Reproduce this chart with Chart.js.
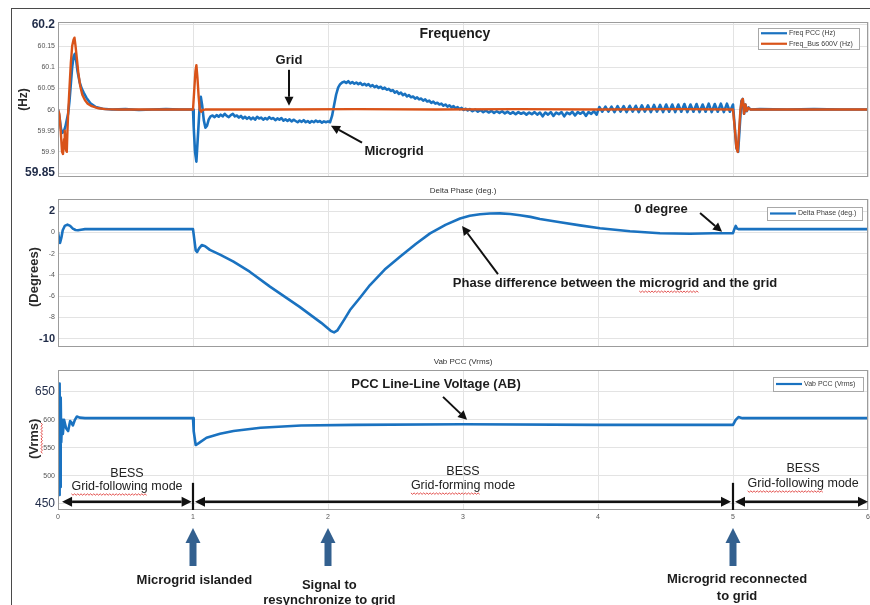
<!DOCTYPE html>
<html><head><meta charset="utf-8">
<script src="https://cdn.jsdelivr.net/npm/chart.js@4.4.0/dist/chart.umd.min.js"></script>
<style>
body{margin:0;background:#fff;}
#wrap{position:relative;width:870px;height:605px;overflow:hidden;background:#fff;}
#frame{position:absolute;left:11px;top:8px;width:900px;height:700px;border-left:1.5px solid #4a4a4a;border-top:1.5px solid #4a4a4a;}
canvas{position:absolute;left:0;}
</style></head><body>
<div id="wrap"><div id="frame"></div>
<canvas id="c1" width="870" height="184" style="top:0px"></canvas>
<canvas id="c2" width="870" height="170" style="top:184px"></canvas>
<canvas id="c3" width="870" height="251" style="top:354px"></canvas>
</div>
<script>
// ---------------- DATA ----------------
const xTicks = [0,1,2,3,4,5,6];
const xTickLabels = ['0','1','2','3','4','5','6'];

const freqTicks = [59.85,59.9,59.95,60,60.05,60.1,60.15,60.2];
const freqTickLabels = ['59.85','59.9','59.95','60','60.05','60.1','60.15','60.2'];
const phaseTicks = [-10,-8,-6,-4,-2,0,2];
const phaseTickLabels = ['-10','-8','-6','-4','-2','0','2'];
const vabTicks = [450,500,550,600,650];
const vabTickLabels = ['450','500','550','600','650'];

// Freq PCC (Hz) - blue
const pccT = [0,0.012,0.022,0.032,0.045,0.055,0.065,0.075,0.085,0.095,0.105,0.115,0.125,0.135,0.145,0.16,0.175,0.19,0.21,0.24,0.28,0.33,0.4,0.5,0.6,0.7,0.8,0.9,1.0,
1.005,1.015,1.025,1.035,1.048,1.058,1.068,1.08,1.092,1.104,1.116,1.13,1.145,1.16,1.175,1.19,1.205,1.22,1.235,1.25,1.265,1.28,1.295,1.31,1.325,1.34,1.355,1.37,1.385,1.4,1.415,1.43,1.445,1.46,1.475,1.49,1.505,1.52,1.535,1.55,1.565,1.58,1.595,1.61,1.625,1.64,1.655,1.67,1.685,1.7,1.715,1.73,1.745,1.76,1.775,1.79,1.805,1.82,1.835,1.85,1.865,1.88,1.895,1.91,1.925,1.94,1.955,1.97,1.985,2.0,2.015,
2.03,2.045,2.06,2.075,2.09,2.105,2.12,2.135,2.15,2.165,2.18,2.195,2.21,2.225,2.24,2.255,2.27,2.285,2.3,2.315,2.33,2.345,2.36,2.375,2.39,2.405,2.42,2.435,2.45,2.465,2.48,2.495,2.51,2.525,2.54,2.555,2.57,2.585,2.6,2.615,2.63,2.645,2.66,2.675,2.69,2.705,2.72,2.735,2.75,2.765,2.78,2.795,2.81,2.825,2.84,2.855,2.87,2.885,2.9,2.915,2.93,2.945,2.96,2.975,2.99,3.005,3.02,3.035,3.05,3.07,3.09,3.11,3.13,3.15,3.17,3.19,3.21,3.23,3.25,3.27,3.29,3.31,3.33,3.35,3.37,3.39,3.41,3.43,3.45,3.47,3.49,3.51,3.53,3.55,3.57,3.59,3.61,3.63,3.65,3.67,3.69,3.71,3.73,3.75,3.77,3.79,3.81,3.83,3.85,3.87,3.89,3.91,3.93,3.95,3.97,3.99,
4.01,4.032,4.055,4.077,4.1,4.122,4.145,4.167,4.19,4.212,4.235,4.257,4.28,4.302,4.325,4.347,4.37,4.392,4.415,4.437,4.46,4.482,4.505,4.527,4.55,4.572,4.595,4.617,4.64,4.662,4.685,4.707,4.73,4.752,4.775,4.797,4.82,4.842,4.865,4.887,4.91,4.932,4.955,4.977,5.0,
5.01,5.025,5.038,5.05,5.062,5.072,5.082,5.092,5.102,5.115,5.13,5.2,5.4,5.6,5.8,6.0];
const pccHz = [60.0,59.98,59.955,59.945,59.95,59.96,59.975,59.99,60.02,60.06,60.1,60.125,60.132,60.115,60.09,60.065,60.05,60.04,60.028,60.015,60.006,60.002,60.0,60.001,59.999,60.0,60.001,60.0,60.0,
59.96,59.9,59.877,59.93,60.0,60.03,60.01,59.975,59.957,59.962,59.976,59.984,59.986,59.982,59.987,59.983,59.988,59.984,59.99,59.985,59.982,59.987,59.99,59.984,59.986,59.981,59.985,59.979,59.983,59.978,59.982,59.977,59.981,59.976,59.983,59.979,59.981,59.976,59.98,59.977,59.982,59.978,59.98,59.975,59.979,59.976,59.98,59.974,59.977,59.973,59.977,59.972,59.976,59.973,59.97,59.974,59.971,59.975,59.97,59.973,59.969,59.973,59.97,59.974,59.971,59.973,59.969,59.972,59.97,59.972,59.97,
59.985,60.01,60.035,60.052,60.06,60.064,60.066,60.063,60.067,60.062,60.065,60.061,60.064,60.06,60.063,60.058,60.061,60.057,60.06,60.055,60.058,60.053,60.056,60.051,60.054,60.049,60.052,60.047,60.049,60.044,60.046,60.04,60.043,60.037,60.04,60.034,60.037,60.031,60.034,60.029,60.031,60.026,60.029,60.024,60.026,60.021,60.024,60.019,60.021,60.016,60.019,60.014,60.016,60.012,60.014,60.009,60.012,60.007,60.01,60.005,60.008,60.003,60.006,60.001,60.004,59.999,60.002,59.998,60.001,59.996,60.0,59.995,59.999,59.994,59.998,59.993,59.997,59.992,59.996,59.992,59.996,59.991,59.995,59.99,59.994,59.989,59.994,59.99,59.993,59.988,59.993,59.989,59.994,59.988,59.993,59.984,59.993,59.988,59.994,59.985,59.993,59.989,59.994,59.984,59.993,59.989,59.995,59.986,59.994,59.99,59.995,59.985,59.994,59.99,59.996,59.988,
60.006,59.995,60.007,59.995,60.007,59.994,60.008,59.995,60.008,59.994,60.009,59.995,60.009,59.994,60.01,59.995,60.01,59.994,60.011,59.995,60.011,59.994,60.012,59.995,60.012,59.994,60.012,59.995,60.013,59.994,60.012,59.995,60.013,59.994,60.012,59.995,60.014,59.994,60.013,59.995,60.014,59.994,60.014,59.995,60.012,
59.97,59.91,59.9,59.96,60.02,60.025,59.99,60.012,59.996,60.005,60.0,60.001,60.0,60.001,60.0,60.0];

// Freq_Bus 600V (Hz) - orange
const busT = [0,0.01,0.02,0.03,0.037,0.045,0.05,0.058,0.065,0.07,0.075,0.085,0.095,0.105,0.115,0.122,0.13,0.14,0.15,0.165,0.18,0.2,0.22,0.25,0.3,0.35,0.45,1.0,
1.008,1.018,1.025,1.033,1.042,1.05,1.06,1.07,1.09,1.6,2.2,2.8,3.4,4.0,4.6,5.0,
5.012,5.025,5.035,5.045,5.055,5.065,5.073,5.082,5.092,5.102,5.115,5.13,5.5,6.0];
const busHz = [60.0,59.99,59.95,59.9,59.895,59.93,59.95,59.905,59.9,59.95,59.99,60.05,60.11,60.15,60.165,60.17,60.15,60.12,60.088,60.055,60.035,60.022,60.014,60.008,60.003,60.001,60.0,60.0,
60.04,60.09,60.105,60.075,60.03,60.0,59.995,59.999,60.0,60.0,60.001,60.0,60.001,60.0,60.001,60.0,
59.96,59.91,59.9,59.95,60.0,60.022,60.025,59.99,60.012,59.997,60.004,60.0,60.0,60.0];

// Delta Phase (deg.)
const phaseT = [0,0.008,0.015,0.025,0.035,0.05,0.07,0.09,0.11,0.13,0.148,0.17,0.2,0.5,1.0,1.008,1.02,1.03,1.045,1.065,1.09,1.125,1.2,1.3,1.42,1.57,1.79,1.95,2.02,2.045,2.07,2.12,2.163,2.24,2.311,2.42,2.533,2.65,2.756,2.87,2.978,3.05,3.126,3.2,3.274,3.35,3.422,3.5,3.57,3.72,3.867,4.015,4.237,4.459,4.681,4.85,5.0,5.01,5.02,5.03,5.04,6.0];
const phaseDeg = [0,-0.6,-1.0,-0.5,0.2,0.6,0.72,0.6,0.35,0.22,0.2,0.25,0.3,0.3,0.3,-0.5,-1.7,-1.85,-1.5,-1.2,-1.3,-1.65,-2.1,-2.75,-3.7,-5.1,-7.0,-8.5,-9.25,-9.4,-9.2,-8.2,-7.3,-6.1,-4.95,-3.5,-2.3,-1.1,-0.1,0.7,1.3,1.55,1.7,1.77,1.78,1.72,1.6,1.45,1.25,0.95,0.65,0.38,0.1,-0.08,-0.13,-0.08,-0.08,0.3,0.6,0.35,0.3,0.3];

// Vab PCC (Vrms)
const vabT = [0,0.004,0.008,0.012,0.016,0.02,0.024,0.03,0.036,0.045,0.06,0.075,0.09,0.1,0.11,0.125,0.14,0.16,0.2,1.0,1.005,1.02,1.04,1.1,1.2,1.3,1.5,1.8,2.2,3.0,4.0,5.0,5.02,5.04,5.07,6.0];
const vabV = [470,660,466,665,480,640,560,600,575,600,585,580,598,595,590,600,606,604,603,603,580,555,558,568,575,580,586,590,591,592,591,591,600,605,603,603];

// ---------------- HELPERS ----------------
const BLUE = '#1a72c0', ORANGE = '#d95319', INK = '#1c1c1c';
const F = 'Liberation Sans, Arial, sans-serif';
function pts(t, v){ return t.map((x,i)=>({x:x, y:v[i]})); }
function txt(ctx,s,x,y,font,color,align){ctx.save();ctx.font=font;ctx.fillStyle=color||INK;ctx.textAlign=align||'center';ctx.textBaseline='middle';ctx.fillText(s,x,y);ctx.restore();}
function vtxt(ctx,s,x,y,font,color){ctx.save();ctx.translate(x,y);ctx.rotate(-Math.PI/2);ctx.font=font;ctx.fillStyle=color||INK;ctx.textAlign='center';ctx.textBaseline='middle';ctx.fillText(s,0,0);ctx.restore();}
function head(ctx,x1,y1,x2,y2,hl,hw){const a=Math.atan2(y2-y1,x2-x1);const bx=x2-hl*Math.cos(a),by=y2-hl*Math.sin(a);
  ctx.beginPath();ctx.moveTo(x2,y2);ctx.lineTo(bx+hw*Math.sin(a),by-hw*Math.cos(a));ctx.lineTo(bx-hw*Math.sin(a),by+hw*Math.cos(a));ctx.closePath();ctx.fill();return [bx,by];}
function arrow(ctx,x1,y1,x2,y2,lw,hl,hw){ctx.save();ctx.strokeStyle=ctx.fillStyle='#111';ctx.lineWidth=lw||2;
  const b=head(ctx,x1,y1,x2,y2,hl||9,hw||4.5);ctx.beginPath();ctx.moveTo(x1,y1);ctx.lineTo(b[0],b[1]);ctx.stroke();ctx.restore();}
function darrow(ctx,x1,x2,y){ctx.save();ctx.strokeStyle=ctx.fillStyle='#111';ctx.lineWidth=2.5;
  const b1=head(ctx,x2,y,x1,y,10,5);const b2=head(ctx,x1,y,x2,y,10,5);ctx.beginPath();ctx.moveTo(b1[0],y);ctx.lineTo(b2[0],y);ctx.stroke();ctx.restore();}
function vbar(ctx,x,y1,y2){ctx.save();ctx.strokeStyle='#111';ctx.lineWidth=2.2;ctx.beginPath();ctx.moveTo(x,y1);ctx.lineTo(x,y2);ctx.stroke();ctx.restore();}
function blockUp(ctx,x,yTop,yBot){const hw=7.5,sw=3.5,hh=15;ctx.save();ctx.fillStyle='#33608f';ctx.beginPath();ctx.moveTo(x,yTop);ctx.lineTo(x+hw,yTop+hh);ctx.lineTo(x+sw,yTop+hh);ctx.lineTo(x+sw,yBot);ctx.lineTo(x-sw,yBot);ctx.lineTo(x-sw,yTop+hh);ctx.lineTo(x-hw,yTop+hh);ctx.closePath();ctx.fill();ctx.restore();}
function squig(ctx,x1,x2,y){ctx.save();ctx.strokeStyle='#e0403c';ctx.lineWidth=0.9;ctx.beginPath();let i=0;for(let x=x1;x<=x2;x+=1.6,i++){const yy=y+(i%2?1.4:0);if(i===0)ctx.moveTo(x,yy);else ctx.lineTo(x,yy);}ctx.stroke();ctx.restore();}
function vsquig(ctx,x,y1,y2){ctx.save();ctx.strokeStyle='#e0403c';ctx.lineWidth=0.9;ctx.beginPath();let i=0;for(let y=y1;y<=y2;y+=1.6,i++){const xx=x+(i%2?1.4:0);if(i===0)ctx.moveTo(xx,y);else ctx.lineTo(xx,y);}ctx.stroke();ctx.restore();}
function legendBox(ctx,right,top,w,h,items){const left=right-w;ctx.save();ctx.fillStyle='#fff';ctx.fillRect(left,top,w,h);ctx.strokeStyle='#a8a8a8';ctx.lineWidth=1;ctx.strokeRect(left+0.5,top+0.5,w,h);
  const step=h/items.length;items.forEach((it,i)=>{const y=top+step*(i+0.5);ctx.strokeStyle=it.c;ctx.lineWidth=2.2;ctx.beginPath();ctx.moveTo(left+3,y);ctx.lineTo(left+29,y);ctx.stroke();txt(ctx,it.t,left+31,y,'7px '+F,'#3a3a3a','left');});ctx.restore();}
function frameArea(ctx,ca){ctx.save();ctx.strokeStyle='#9c9c9c';ctx.lineWidth=1;ctx.strokeRect(ca.left+0.5,ca.top+0.5,ca.right-ca.left-1,ca.bottom-ca.top-1);ctx.restore();}

function buildChart(id, datasets, ycfg, pad, xh, drawFn){
  const big = ycfg.big;
  return new Chart(document.getElementById(id), {
    type:'line',
    data:{datasets:datasets},
    options:{
      responsive:false, animation:false, devicePixelRatio:1,
      layout:{padding:pad},
      plugins:{legend:{display:false},tooltip:{enabled:false},title:{display:false}},
      elements:{point:{radius:0},line:{tension:0,borderWidth:2.4,borderJoinStyle:'round',borderCapStyle:'round'}},
      scales:{
        x:{type:'linear',min:0,max:6,
          afterBuildTicks:ax=>{ax.ticks=xTicks.map(v=>({value:v}));},
          afterFit:ax=>{ax.height=xh;ax.paddingLeft=0;ax.paddingRight=0;},
          grid:{color:'#e3e3e3',drawTicks:false},border:{display:false},
          ticks:{display:xh>0,padding:3,autoSkip:false,maxRotation:0,color:'#555',font:{family:F,size:7},
            callback:v=>xTickLabels[xTicks.indexOf(v)]}},
        y:{type:'linear',min:ycfg.min,max:ycfg.max,
          afterBuildTicks:ax=>{ax.ticks=ycfg.ticks.map(v=>({value:v}));},
          afterFit:ax=>{ax.width=58;ax.paddingTop=0;ax.paddingBottom=0;},
          grid:{color:'#e3e3e3',drawTicks:false},border:{display:false},
          ticks:{padding:3,autoSkip:false,
            callback:v=>ycfg.labels[ycfg.ticks.indexOf(v)],
            font:c=>(c.tick&&big.includes(c.tick.value))?ycfg.bigFont:{family:F,size:7},
            color:c=>(c.tick&&big.includes(c.tick.value))?ycfg.bigColor:'#555'}}
      }
    },
    plugins:[{id:'decor'+id,afterDraw:ch=>drawFn(ch,ch.ctx,ch.chartArea,ch.scales.x,ch.scales.y)}]
  });
}

// ---------------- PANEL 1: Frequency ----------------
buildChart('c1',[
  {label:'Freq PCC (Hz)',data:pts(pccT,pccHz),borderColor:BLUE,borderWidth:2.6,order:2},
  {label:'Freq_Bus 600V (Hz)',data:pts(busT,busHz),borderColor:ORANGE,borderWidth:2.4,order:1}
],{min:59.8406,max:60.207,ticks:freqTicks,labels:freqTickLabels,big:[60.2,59.85],bigFont:{family:F,size:12,weight:'bold'},bigColor:'#1f2b48'},
{top:22,bottom:7,left:0,right:2},0,(ch,ctx,ca,X,Y)=>{
  frameArea(ctx,ca);
  vtxt(ctx,'(Hz)',24,(ca.top+ca.bottom)/2,'bold 12px '+F,'#2a2a2a');
  txt(ctx,'Frequency',X.getPixelForValue(2.94),Y.getPixelForValue(60.179),'bold 14px '+F);
  txt(ctx,'Grid',X.getPixelForValue(1.711),Y.getPixelForValue(60.117),'bold 13px '+F);
  arrow(ctx,X.getPixelForValue(1.711),Y.getPixelForValue(60.094),X.getPixelForValue(1.711),Y.getPixelForValue(60.009),2,9,4.5);
  txt(ctx,'Microgrid',X.getPixelForValue(2.489),Y.getPixelForValue(59.9),'bold 13px '+F);
  arrow(ctx,X.getPixelForValue(2.252),Y.getPixelForValue(59.922),X.getPixelForValue(2.022),Y.getPixelForValue(59.962),2,9,4.5);
  legendBox(ctx,ca.right-9,ca.top+6,101,21,[{c:BLUE,t:'Freq PCC (Hz)'},{c:ORANGE,t:'Freq_Bus 600V (Hz)'}]);
});

// ---------------- PANEL 2: Delta Phase ----------------
buildChart('c2',[
  {label:'Delta Phase (deg.)',data:pts(phaseT,phaseDeg),borderColor:BLUE,borderWidth:2.6}
],{min:-10.77,max:3.13,ticks:phaseTicks,labels:phaseTickLabels,big:[2,-10],bigFont:{family:F,size:11,weight:'bold'},bigColor:'#1f2b48'},
{top:15,bottom:7,left:0,right:2},0,(ch,ctx,ca,X,Y)=>{
  frameArea(ctx,ca);
  txt(ctx,'Delta Phase (deg.)',X.getPixelForValue(3.0),ca.top-8,'8px '+F,'#333');
  vtxt(ctx,'(Degrees)',34,Y.getPixelForValue(-4.2),'bold 13px '+F,'#2a2a2a');
  txt(ctx,'0 degree',X.getPixelForValue(4.467),Y.getPixelForValue(2.19),'bold 13px '+F);
  arrow(ctx,X.getPixelForValue(4.756),Y.getPixelForValue(1.81),X.getPixelForValue(4.919),Y.getPixelForValue(0.05),2,9,4.5);
  const s='Phase difference between the microgrid and the grid';
  const cx=X.getPixelForValue(4.126), cy=Y.getPixelForValue(-4.76);
  ctx.save();ctx.font='bold 13px '+F;const w=ctx.measureText(s).width;const w0=ctx.measureText('Phase difference between the ').width;const w1=ctx.measureText('microgrid').width;ctx.restore();
  txt(ctx,s,cx,cy,'bold 13px '+F);
  squig(ctx,cx-w/2+w0,cx-w/2+w0+w1,cy+8);
  arrow(ctx,X.getPixelForValue(3.259),Y.getPixelForValue(-3.92),X.getPixelForValue(2.993),Y.getPixelForValue(0.59),2,9,4.5);
  legendBox(ctx,ca.right-6,ca.top+8,95,13,[{c:BLUE,t:'Delta Phase (deg.)'}]);
});

// ---------------- PANEL 3: Vab PCC ----------------
buildChart('c3',[
  {label:'Vab PCC (Vrms)',data:pts(vabT,vabV),borderColor:BLUE,borderWidth:2.6}
],{min:439,max:689,ticks:vabTicks,labels:vabTickLabels,big:[450,650],bigFont:{family:F,size:12},bigColor:'#1f2b48'},
{top:16,bottom:81,left:0,right:2},14,(ch,ctx,ca,X,Y)=>{
  frameArea(ctx,ca);
  txt(ctx,'Vab PCC (Vrms)',X.getPixelForValue(3.0),ca.top-8,'8px '+F,'#333');
  const vy=Y.getPixelForValue(566);
  vtxt(ctx,'(Vrms)',34,vy,'bold 13px '+F,'#2a2a2a');
  ctx.save();ctx.font='bold 13px '+F;const vw=ctx.measureText('(Vrms)').width;const vw0=ctx.measureText('(').width;const vw1=ctx.measureText('Vrms').width;ctx.restore();
  vsquig(ctx,41,vy-vw/2+ (vw-vw0-vw1), vy+vw/2-vw0);
  txt(ctx,'PCC Line-Line Voltage (AB)',X.getPixelForValue(2.8),Y.getPixelForValue(664),'bold 13px '+F);
  arrow(ctx,X.getPixelForValue(2.852),Y.getPixelForValue(641),X.getPixelForValue(3.03),Y.getPixelForValue(600),2,9,4.5);
  // mode labels
  const modeFont='12.5px '+F;
  function mode(t,v1,v2,l2,sq){const x=X.getPixelForValue(t);txt(ctx,'BESS',x,Y.getPixelForValue(v1),modeFont,'#222');const y2=Y.getPixelForValue(v2);txt(ctx,l2,x,y2,modeFont,'#222');
    if(sq){ctx.save();ctx.font=modeFont;const w=ctx.measureText(l2).width;const ws=ctx.measureText(sq).width;ctx.restore();squig(ctx,x-w/2,x-w/2+ws,y2+7);}}
  mode(0.511,503.6,480.4,'Grid-following mode','Grid-following');
  mode(3.0,507,482,'Grid-forming mode','Grid-forming');
  mode(5.52,512.5,485.7,'Grid-following mode','Grid-following');
  const ay=Y.getPixelForValue(453.6);
  darrow(ctx,X.getPixelForValue(0.03),X.getPixelForValue(0.99),ay);
  darrow(ctx,X.getPixelForValue(1.015),X.getPixelForValue(4.985),ay);
  darrow(ctx,X.getPixelForValue(5.015),X.getPixelForValue(6.0),ay);
  vbar(ctx,X.getPixelForValue(1),Y.getPixelForValue(487.5),ca.bottom);
  vbar(ctx,X.getPixelForValue(5),Y.getPixelForValue(487.5),ca.bottom);
  legendBox(ctx,ca.right-5,ca.top+7,90,14,[{c:BLUE,t:'Vab PCC (Vrms)'}]);
  // event markers below the axis
  const b=ca.bottom;
  [1,2,5].forEach(t=>blockUp(ctx,X.getPixelForValue(t),b+18,b+56));
  const ef='bold 13px '+F;
  txt(ctx,'Microgrid islanded',X.getPixelForValue(1.01),b+70,ef);
  txt(ctx,'Signal to',X.getPixelForValue(2.01),b+75,ef);
  txt(ctx,'resynchronize to grid',X.getPixelForValue(2.01),b+90,ef);
  txt(ctx,'Microgrid reconnected',X.getPixelForValue(5.03),b+69,ef);
  txt(ctx,'to grid',X.getPixelForValue(5.03),b+86,ef);
});
</script>
</body></html>
